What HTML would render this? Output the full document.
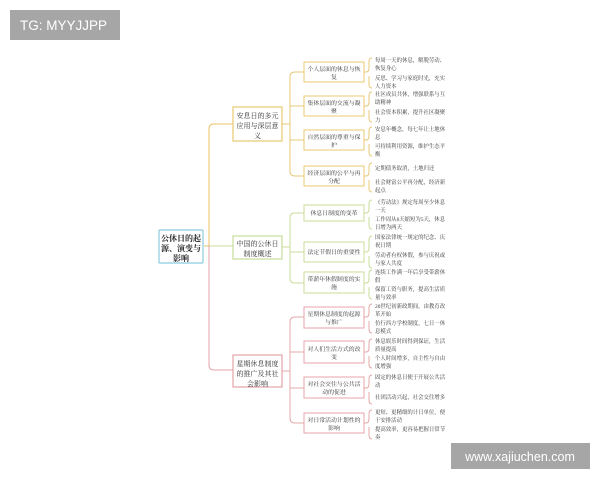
<!DOCTYPE html>
<html><head><meta charset="utf-8"><style>
html,body{margin:0;padding:0;background:#fff;}
svg{display:block;font-family:"Liberation Serif","Noto Serif CJK SC","Noto Sans CJK SC",serif;}
</style></head><body>
<svg width="600" height="480" viewBox="0 0 600 480" xmlns="http://www.w3.org/2000/svg">
<rect x="0" y="0" width="600" height="480" fill="#fff"/>
<rect x="10" y="10" width="110" height="30" fill="#a6a6a6"/>
<text x="20" y="30" font-family="Liberation Sans,sans-serif" font-size="13.5" fill="#fff">TG: MYYJJPP</text>
<rect x="451" y="443" width="139" height="26" fill="#a6a6a6"/>
<text x="520" y="461" text-anchor="middle" font-family="Liberation Sans,sans-serif" font-size="12.5" fill="#fff">www.xajiuchen.com</text>

<g fill="none" stroke-width="1">
<path d="M204 246 H209" stroke="#e0c070"/>
<path d="M233 124 H214 Q209 124 209 129 V246" stroke="#e8c060"/>
<path d="M209 246 H233" stroke="#c8dc98"/>
<path d="M209 246 V365 Q209 370 214 370 H233" stroke="#e4a4a8"/>

<g stroke="#e8c878">
<path d="M282 124 H290"/>
<path d="M304 72 H295 Q290 72 290 77 V171 Q290 176 295 176 H304"/>
<path d="M290 106 H304 M290 140 H304"/>
</g>
<g stroke="#c8dc98">
<path d="M282 247 H290"/>
<path d="M304 213 H295 Q290 213 290 218 V278 Q290 283 295 283 H304"/>
<path d="M290 252 H304"/>
</g>
<g stroke="#e4a8aa">
<path d="M282 371 H290"/>
<path d="M304 317 H295 Q290 317 290 322 V418 Q290 423 295 423 H304"/>
<path d="M290 352 H304 M290 388 H304"/>
</g>

<g stroke="#e8c878">
<path d="M364 72 H366 Q369 72 369 68 V62 Q369 58 372 58 M369 76 V84 Q369 88 372 88"/>
<path d="M364 106 H366 Q369 106 369 102 V96 Q369 92 372 92 M369 110 V118 Q369 122 372 122"/>
<path d="M364 140 H366 Q369 140 369 136 V131 Q369 127 372 127 M369 144 V152 Q369 156 372 156"/>
<path d="M364 176 H366 Q369 176 369 172 V167 Q369 163 372 163 M369 180 V188 Q369 192 372 192"/>
</g>
<g stroke="#c8dc98">
<path d="M364 213 H366 Q369 213 369 209 V204 Q369 200 372 200 M369 217 V225 Q369 229 372 229"/>
<path d="M364 252 H366 Q369 252 369 248 V240 Q369 236 372 236 M369 256 V264 Q369 268 372 268"/>
<path d="M364 283 H366 Q369 283 369 279 V274 Q369 270 372 270 M369 287 V295 Q369 299 372 299"/>
</g>
<g stroke="#e4a8aa">
<path d="M364 317 H366 Q369 317 369 313 V308 Q369 304 372 304 M369 321 V329 Q369 333 372 333"/>
<path d="M364 352 H366 Q369 352 369 348 V343 Q369 339 372 339 M369 356 V364 Q369 368 372 368"/>
<path d="M364 388 H366 Q369 388 369 384 V379 Q369 375 372 375 M369 392 V400 Q369 404 372 404"/>
<path d="M364 423 H366 Q369 423 369 419 V414 Q369 410 372 410 M369 427 V435 Q369 439 372 439"/>
</g>
</g>

<rect x="159" y="230" width="44" height="33" fill="#fff" stroke="#8ccbe0" stroke-width="1.2" rx="1"/>
<g font-size="8" fill="#222" text-anchor="middle" font-weight="bold">
<text x="181" y="241">公休日的起</text>
<text x="181" y="251">源、演变与</text>
<text x="181" y="261">影响</text>
</g>

<g fill="#fff" stroke-width="1.2">
<rect x="233" y="107" width="49" height="34" stroke="#e8c870"/>
<rect x="233" y="236" width="49" height="23" stroke="#c8dc98"/>
<rect x="233" y="355" width="49" height="32" stroke="#e4a4a8"/>
</g>
<g font-size="7" fill="#333" text-anchor="middle">
<text x="257.5" y="118">安息日的多元</text>
<text x="257.5" y="128">应用与深层意</text>
<text x="257.5" y="138">义</text>
<text x="257.5" y="246">中国的公休日</text>
<text x="257.5" y="256">制度概述</text>
<text x="257.5" y="366">星期休息制度</text>
<text x="257.5" y="376">的推广及其社</text>
<text x="257.5" y="386">会影响</text>
</g>

<g fill="#fff" stroke-width="1">
<g stroke="#e8c870">
<rect x="304" y="62" width="60" height="20"/>
<rect x="304" y="96" width="60" height="20"/>
<rect x="304" y="130" width="60" height="20"/>
<rect x="304" y="166" width="60" height="20"/>
</g>
<g stroke="#c8dc98">
<rect x="304" y="205" width="60" height="16"/>
<rect x="304" y="242" width="60" height="20"/>
<rect x="304" y="272" width="60" height="21"/>
</g>
<g stroke="#e4a4a8">
<rect x="304" y="307" width="60" height="21"/>
<rect x="304" y="341" width="60" height="22"/>
<rect x="304" y="377" width="60" height="21"/>
<rect x="304" y="413" width="60" height="20"/>
</g>
</g>
<g font-size="5.9" fill="#333" text-anchor="middle">
<text x="334" y="71">个人层面的休息与恢</text><text x="334" y="79">复</text>
<text x="334" y="105">集体层面的交流与凝</text><text x="334" y="113">聚</text>
<text x="334" y="139">自然层面的尊重与保</text><text x="334" y="147">护</text>
<text x="334" y="175">经济层面的公平与再</text><text x="334" y="183">分配</text>
<text x="334" y="215">休息日制度的变革</text>
<text x="334" y="254">法定节假日的重要性</text>
<text x="334" y="281">带薪年休假制度的实</text><text x="334" y="289">施</text>
<text x="334" y="316">星期休息制度的起源</text><text x="334" y="324">与推广</text>
<text x="334" y="351">对人们生活方式的改</text><text x="334" y="359">变</text>
<text x="334" y="386">对社会交往与公共活</text><text x="334" y="394">动的促进</text>
<text x="334" y="422">对日常活动计划性的</text><text x="334" y="430">影响</text>
</g>

<g font-size="5.4" fill="#333">
<text x="375" y="62">每周一天的休息，解脱劳动、</text><text x="375" y="70">恢复身心</text>
<text x="375" y="80">反思、学习与家庭时光，充实</text><text x="375" y="88">人力资本</text>
<text x="375" y="96">社区成员共休，增强联系与互</text><text x="375" y="104">助精神</text>
<text x="375" y="114">社会资本积累，提升社区凝聚</text><text x="375" y="122">力</text>
<text x="375" y="131">安息年概念，每七年让土地休</text><text x="375" y="139">息</text>
<text x="375" y="148">可持续利用资源，维护生态平</text><text x="375" y="156">衡</text>
<text x="375" y="170">定期债务取消，土地归还</text>
<text x="375" y="184">社会财富公平再分配，经济新</text><text x="375" y="192">起点</text>
<text x="375" y="204">《劳动法》规定每周至少休息</text><text x="375" y="212">一天</text>
<text x="375" y="221">工作周从6天缩短为5天，休息</text><text x="375" y="229">日增为两天</text>
<text x="375" y="239">国家法律统一规定的纪念、庆</text><text x="375" y="247">祝日期</text>
<text x="375" y="257">劳动者有权休假，参与庆祝或</text><text x="375" y="265">与家人共度</text>
<text x="375" y="274">连续工作满一年后享受带薪休</text><text x="375" y="282">假</text>
<text x="375" y="291">保留工资与职务，提高生活质</text><text x="375" y="299">量与效率</text>
<text x="375" y="308">20世纪初新政期间，由教育改</text><text x="375" y="316">革开始</text>
<text x="375" y="325">仿行西方学校制度，七日一休</text><text x="375" y="333">息模式</text>
<text x="375" y="343">休息娱乐时间得到保证，生活</text><text x="375" y="351">质量提高</text>
<text x="375" y="360">个人时间增多，自主性与自由</text><text x="375" y="368">度增强</text>
<text x="375" y="379">固定的休息日便于开展公共活</text><text x="375" y="387">动</text>
<text x="375" y="399">社团活动兴起，社会交往增多</text>
<text x="375" y="414">更短、更精细的计日单位，便</text><text x="375" y="422">于安排活动</text>
<text x="375" y="431">提高效率，更容易把握日常节</text><text x="375" y="439">奏</text>
</g>
</svg>
</body></html>
